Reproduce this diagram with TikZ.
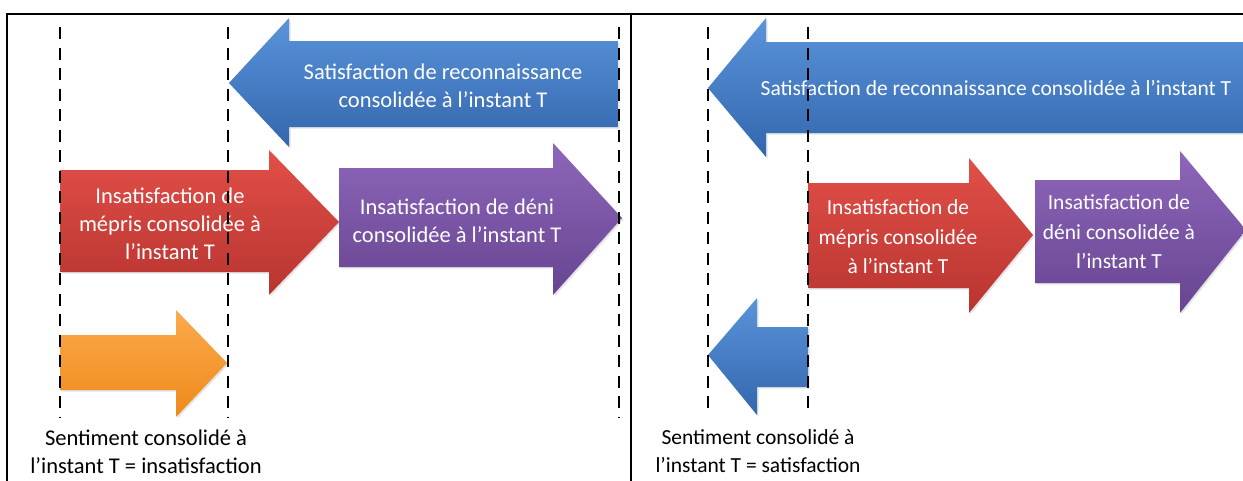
\documentclass[tikz,border=0pt]{standalone}
\usepackage{fontspec}
\setmainfont{Carlito}
\usetikzlibrary{shadows}
\definecolor{bluetop}{HTML}{5A94DA}
\definecolor{bluemid}{HTML}{3D7AC7}
\definecolor{bluebot}{HTML}{3366AD}
\definecolor{redtop}{HTML}{E24F48}
\definecolor{redmid}{HTML}{D33E38}
\definecolor{redbot}{HTML}{B83430}
\definecolor{purtop}{HTML}{8E66BA}
\definecolor{purmid}{HTML}{7D56A8}
\definecolor{purbot}{HTML}{674591}
\definecolor{ortop}{HTML}{FBAA4C}
\definecolor{ormid}{HTML}{F7951F}
\definecolor{orbot}{HTML}{EE8A1A}
\tikzset{
  x=1pt, y=-1pt,
  arr/.style={drop shadow={opacity=0.22,shadow xshift=1.5pt,shadow yshift=-1.5pt}},
  bluearr/.style={arr, top color=bluetop, middle color=bluemid, bottom color=bluebot},
  redarr/.style={arr, top color=redtop, middle color=redmid, bottom color=redbot},
  purarr/.style={arr, top color=purtop, middle color=purmid, bottom color=purbot},
  orarr/.style={arr, top color=ortop, middle color=ormid, bottom color=orbot},
  lbl/.style={text=white, align=center, inner sep=0pt, font=\fontsize{22.5}{28}\selectfont},
  rlbl/.style={text=white, align=center, inner sep=0pt, font=\fontsize{21.5}{29.5}\selectfont},
  captxt/.style={text=black, align=center, inner sep=0pt, font=\fontsize{22.5}{28}\selectfont},
  rcaptxt/.style={text=black, align=center, inner sep=0pt, font=\fontsize{21.5}{28}\selectfont},
  vdash/.style={line width=2.4pt, dash pattern=on 12pt off 8.5pt},
  frame/.style={line width=2.4pt, black}
}
\begin{document}
\begin{tikzpicture}
\useasboundingbox (0,0) rectangle (1243,480);
\begin{scope}
\clip (0,0) rectangle (1243,480);
% ---------- left panel ----------
\path[bluearr] (229,83) -- (289,18) -- (289,41) -- (618,41) -- (618,127) -- (289,127) -- (289,147) -- cycle;
\path[redarr] (60,170) -- (269,170) -- (269,150) -- (339,222) -- (269,295) -- (269,272) -- (60,272) -- cycle;
\path[purarr] (339,168) -- (553,168) -- (553,143) -- (622,218) -- (553,295) -- (553,267) -- (339,267) -- cycle;
\path[orarr] (60,335) -- (176,335) -- (176,310) -- (227,363) -- (176,417) -- (176,390) -- (60,390) -- cycle;

\node[lbl] (sl) at (443,86) {Satisfaction de reconnaissance\\consolidée à l’instant T};
\node[lbl] (ml) at (170,224) {Insatisfaction de\\mépris consolidée à\\l’instant T};
\node[lbl] (dl) at (457,221) {Insatisfaction de déni\\consolidée à l’instant T};
\node[captxt] (cl) at (146,452) {Sentiment consolidé à\\l’instant T = insatisfaction};

% ---------- right panel ----------
\path[bluearr] (708,88) -- (766,18) -- (766,42) -- (1260,42) -- (1260,133) -- (766,133) -- (766,157) -- cycle;
\path[redarr] (808,183) -- (969,183) -- (969,158) -- (1033,235) -- (969,313) -- (969,288) -- (808,288) -- cycle;
\path[purarr] (1035,180) -- (1180,180) -- (1180,151) -- (1246,230) -- (1180,313) -- (1180,283) -- (1035,283) -- cycle;
\path[bluearr] (708,355) -- (757,298) -- (757,327) -- (808,327) -- (808,387) -- (757,387) -- (757,415) -- cycle;

\node[rlbl] (sr) at (996,88) {Satisfaction de reconnaissance consolidée à l’instant T};
\node[rlbl] (mr) at (898,237) {Insatisfaction de\\mépris consolidée\\à l’instant T};
\node[rlbl] (dr) at (1119,232) {Insatisfaction de\\déni consolidée à\\l’instant T};
\node[rcaptxt] (cr) at (758,451) {Sentiment consolidé à\\l’instant T = satisfaction};

% ---------- dashed guides ----------
\foreach \x in {60,228,619} \draw[vdash] (\x,27) -- (\x,418);
\foreach \x in {708,808} \draw[vdash] (\x,27) -- (\x,410);

% ---------- frame ----------
\draw[frame] (7,482) -- (7,14) -- (1245,14);
\draw[frame] (631,14) -- (631,482);
\end{scope}
\end{tikzpicture}
\end{document}
